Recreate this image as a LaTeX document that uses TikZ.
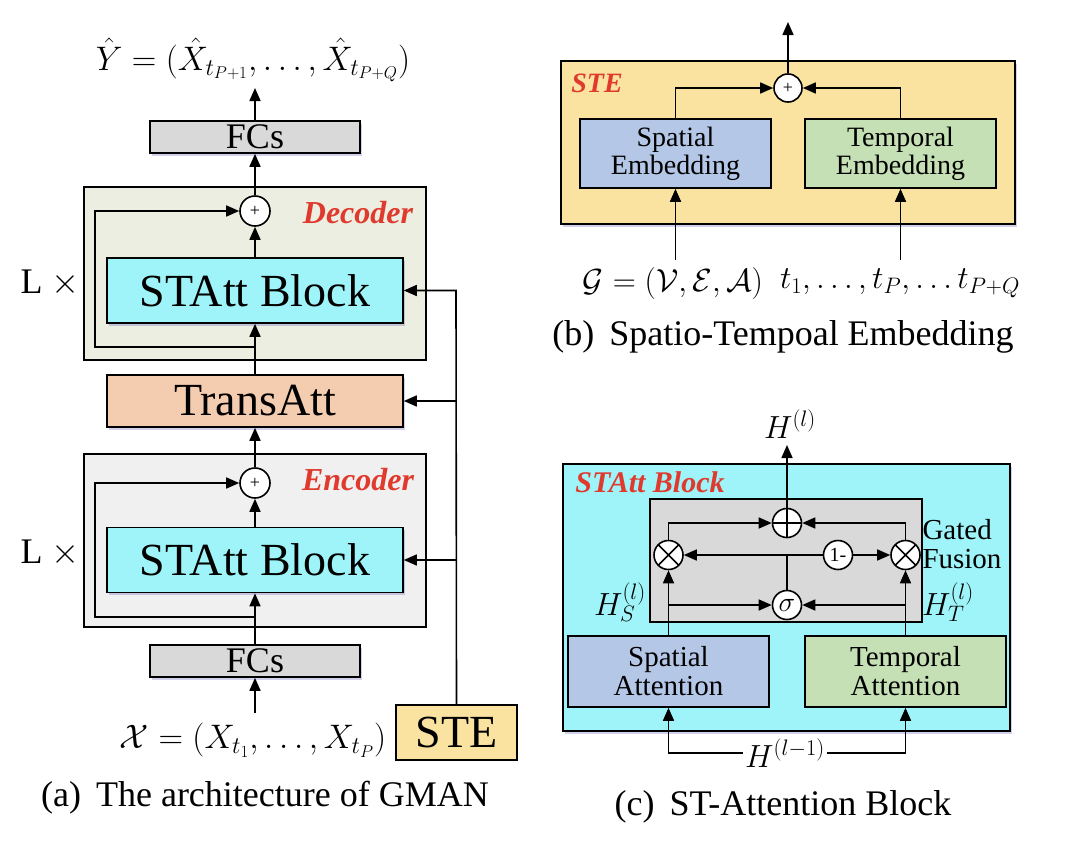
\RequirePackage{fix-cm}
\documentclass[tikz,border=0pt]{standalone}
\usepackage{fontspec}
\setmainfont{Liberation Serif}
\usetikzlibrary{arrows.meta,shadows,calc}
\definecolor{attcyan}{RGB}{158,244,248}
\definecolor{steyel}{RGB}{250,226,160}
\definecolor{spblue}{RGB}{180,199,231}
\definecolor{tmgreen}{RGB}{197,224,180}
\definecolor{peach}{RGB}{244,204,176}
\definecolor{fcgray}{RGB}{217,217,217}
\definecolor{decbg}{RGB}{235,238,224}
\definecolor{encbg}{RGB}{240,240,240}
\definecolor{lblred}{RGB}{224,58,46}
\newcommand\fsz[1]{\fontsize{#1}{#1}\selectfont}
\tikzset{
  lw/.style={line width=1.6pt},
  arr/.style={lw,-{Triangle[length=13pt,width=11pt]}},
  shd/.style={drop shadow={shadow xshift=1.5pt,shadow yshift=-2.5pt,fill=blue!60!black,opacity=0.18}},
  box/.style={draw,lw,inner sep=0pt,align=center},
  fcbox/.style={box,shd,fill=fcgray,minimum width=210pt,minimum height=32pt,font=\fsz{36}},
  attbox/.style={box,shd,fill=attcyan,minimum width=296pt,minimum height=65pt,font=\fsz{46}},
  transbox/.style={box,shd,fill=peach,minimum width=296pt,minimum height=52pt,font=\fsz{46}},
  grpbox/.style={box,minimum width=342pt,minimum height=173pt},
  redlbl/.style={text=lblred,font=\fsz{32}\bfseries\itshape},
  splus/.style={circle,draw,lw,fill=white,minimum size=30pt,inner sep=0pt,font=\fsz{18}},
  embbox/.style={box,minimum width=191pt,minimum height=69pt,font=\fsz{28}\linespread{1.05}},
  cattbox/.style={box,minimum width=201pt,minimum height=71pt,font=\fsz{29}\linespread{1.05}},
  opc/.style={circle,draw,lw,minimum size=29pt,inner sep=0pt},
  bigplus/.style={opc,path picture={\draw[lw] (path picture bounding box.north) -- (path picture bounding box.south) (path picture bounding box.west) -- (path picture bounding box.east);}},
  bigtimes/.style={opc,path picture={\draw[lw] (path picture bounding box.north west) -- (path picture bounding box.south east) (path picture bounding box.south west) -- (path picture bounding box.north east);}},
  captxt/.style={font=\fsz{36}},
  mth/.style={font=\fsz{34}}
}
\begin{document}
\begin{tikzpicture}[x=1pt,y=-1pt]
\useasboundingbox[fill=white] (0,0) rectangle (1080,844);
% ---------------- (a) ----------------
\node[grpbox,fill=decbg] (dec) at (255,273.5) {};
\node[grpbox,fill=encbg] (enc) at (255,540.5) {};
\node[fcbox] (fc2) at (255,137) {FCs};
\node[splus] (dplus) at (255,211) {+};
\node[attbox] (datt) at (255,290.5) {STAtt Block};
\node[transbox] (trans) at (255,401) {TransAtt};
\node[splus] (eplus) at (255,483) {+};
\node[attbox] (eatt) at (255,560) {STAtt Block};
\node[fcbox] (fc1) at (255,661) {FCs};
\node[box,fill=steyel,minimum width=121pt,minimum height=55pt,font=\fsz{46}] (ste) at (456.5,732.5) {STE};
\node[mth] (yout) at (253,60) {$\hat{Y}=(\hat{X}_{t_{P+1}},\ldots,\hat{X}_{t_{P+Q}})$};
\node[mth] (xin) at (253,740) {$\mathcal{X}=(X_{t_1},\ldots,X_{t_P})$};
\node[redlbl] (declbl) at (358,213) {Decoder};
\node[redlbl] (enclbl) at (358,480) {Encoder};
\node[font=\fsz{36}] (l1) at (50,283) {L $\times$};
\node[font=\fsz{36}] (l2) at (50,553) {L $\times$};
\node[captxt] (capa) at (265,798) {(a)\, The architecture of GMAN};
\coordinate (ytop) at (255,88);
\coordinate (xtop) at (255,713);
\coordinate (dloop) at (255,347);
\coordinate (dl1) at (95,347);
\coordinate (eloop) at (255,617);
\coordinate (el1) at (95,617);
\coordinate (s1) at (456,290.5);
\draw[arr] (fc2.north) -- (ytop);
\draw[arr] (dplus.north) -- (fc2.south);
\draw[arr] (datt.north) -- (dplus.south);
\draw[arr] (trans.north) -- (datt.south);
\draw[arr] (dloop) -- (dl1) |- (dplus.west);
\draw[arr] (eplus.north) -- (trans.south);
\draw[arr] (eatt.north) -- (eplus.south);
\draw[arr] (fc1.north) -- (eatt.south);
\draw[arr] (eloop) -- (el1) |- (eplus.west);
\draw[arr] (xtop) -- (fc1.south);
\draw[arr] (ste.north) -- (s1) -- (datt.east);
\draw[arr] (ste.north |- trans.east) -- (trans.east);
\draw[arr] (ste.north |- eatt.east) -- (eatt.east);
% ---------------- (b) ----------------
\node[box,shd,fill=steyel,minimum width=454pt,minimum height=163pt] (stebox) at (788,142.5) {};
\node[redlbl,font=\fsz{28}\bfseries\itshape] (stelbl) at (597,83) {STE};
\node[splus,minimum size=28pt] (bplus) at (788,88) {+};
\node[embbox,fill=spblue] (semb) at (675.5,153.5) {Spatial\\Embedding};
\node[embbox,fill=tmgreen] (temb) at (900.5,153.5) {Temporal\\Embedding};
\node[mth,font=\fsz{32}] (gin) at (673,283) {$\mathcal{G}=(\mathcal{V},\mathcal{E},\mathcal{A})$};
\node[mth,font=\fsz{32}] (tin) at (900,283) {$t_1,\ldots,t_P,\ldots t_{P+Q}$};
\node[captxt] (capb) at (783,337) {(b)\, Spatio-Tempoal Embedding};
\coordinate (btop) at (788,22);
\coordinate (gtop) at (675.5,260);
\coordinate (ttop) at (900.5,260);
\draw[arr] (bplus.north) -- (btop);
\draw[arr] (semb.north) |- (bplus.west);
\draw[arr] (temb.north) |- (bplus.east);
\draw[arr] (gtop) -- (semb.south);
\draw[arr] (ttop) -- (temb.south);
% ---------------- (c) ----------------
\node[box,shd,fill=attcyan,minimum width=447pt,minimum height=267pt] (cout) at (786.5,597.5) {};
\node[redlbl,font=\fsz{30}\bfseries\itshape] (cblbl) at (650,482) {STAtt Block};
\node[box,fill=fcgray,minimum width=272pt,minimum height=123pt] (gate) at (786,560.5) {};
\node[font=\fsz{29}\linespread{1.1},align=left] (gfl) at (962,544) {Gated\\Fusion};
\node[bigplus,fill=white] (cplus) at (787,523) {};
\node[bigtimes,fill=white] (lx) at (668.5,555) {};
\node[bigtimes,fill=white] (rx) at (905.5,555) {};
\node[opc,fill=white,font=\fsz{20}] (onem) at (838,555) {1-};
\node[opc,fill=white,font=\fsz{28}] (sig) at (787,605) {$\sigma$};
\node[cattbox,fill=spblue] (satt) at (668.5,671.5) {Spatial\\Attention};
\node[cattbox,fill=tmgreen] (tatt) at (905.5,671.5) {Temporal\\Attention};
\node[mth,font=\fsz{32}] (hl) at (790,424) {$H^{(l)}$};
\node[mth,font=\fsz{32},inner sep=2pt] (hprev) at (785,753) {$H^{(l-1)}$};
\node[mth,font=\fsz{32}] (hs) at (620,602) {$H_S^{(l)}$};
\node[mth,font=\fsz{32}] (ht) at (948,602) {$H_T^{(l)}$};
\node[captxt] (capc) at (783,807) {(c)\, ST-Attention Block};
\coordinate (ctop) at (787,445);
\draw[arr] (cplus.north) -- (ctop);
\draw[arr] (hprev.west) -| (satt.south);
\draw[arr] (hprev.east) -| (tatt.south);
\draw[arr] (satt.north) -- (lx.south);
\draw[arr] (tatt.north) -- (rx.south);
\draw[arr] (satt.north |- sig.west) -- (sig.west);
\draw[arr] (tatt.north |- sig.east) -- (sig.east);
\draw[arr] (lx.north) |- (cplus.west);
\draw[arr] (rx.north) |- (cplus.east);
\coordinate (jn) at (sig.north |- lx.east);
\draw[lw] (sig.north) -- (jn);
\draw[arr] (jn) -- (lx.east);
\draw[lw] (jn) -- (onem.west);
\draw[arr] (onem.east) -- (rx.west);
\end{tikzpicture}
\end{document}
